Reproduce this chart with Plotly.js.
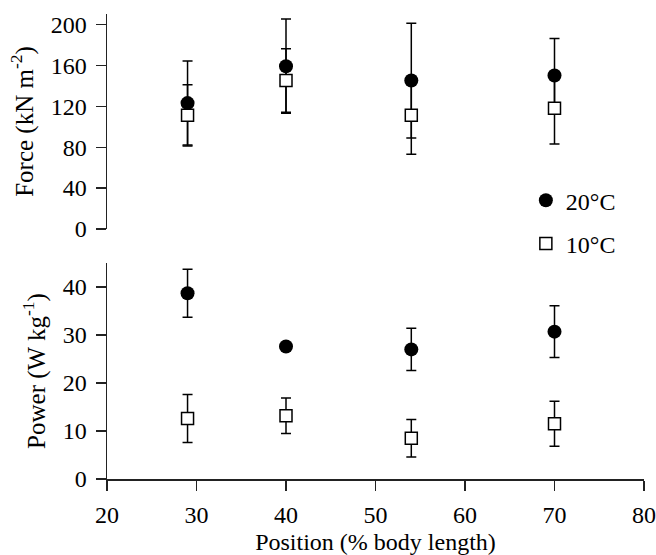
<!DOCTYPE html>
<html>
<head>
<meta charset="utf-8">
<script src="https://cdn.plot.ly/plotly-3.0.1.min.js"></script>
<style>html,body{margin:0;padding:0;background:#fff;}#chart{width:656px;height:555px;}</style>
</head>
<body>
<div id="chart"></div>
<script>
const positions = [29, 40, 54, 70];
const force20 = [123, 159, 145, 150];
const force20Err = [41, 46, 56, 36];
const force10 = [111, 145, 111, 118];
const force10Err = [30, 31, 38, 35];
const power20 = [38.7, 27.6, 27.0, 30.7];
const power20Err = [5.0, 0.8, 4.4, 5.4];
const power10 = [12.6, 13.2, 8.5, 11.5];
const power10Err = [5.0, 3.7, 3.9, 4.7];
const xTicks = [20, 30, 40, 50, 60, 70, 80];
const forceTicks = [0, 40, 80, 120, 160, 200];
const powerTicks = [0, 10, 20, 30, 40];

const FONT = "'Liberation Serif', 'Times New Roman', serif";
const errStyle = (arr) => ({type: 'data', array: arr, visible: true, color: '#000', thickness: 1.5, width: 5});
const circle = {symbol: 'circle', size: 14, color: '#000', line: {color: '#000', width: 0}};
const square = {symbol: 'square', size: 12, color: '#fff', line: {color: '#000', width: 1.5}};

const traces = [
  {x: positions, y: force20, error_y: errStyle(force20Err), mode: 'markers', marker: circle,
   xaxis: 'x', yaxis: 'y', name: '20°C', legendgroup: 'a', showlegend: true},
  {x: positions, y: force10, error_y: errStyle(force10Err), mode: 'markers', marker: square,
   xaxis: 'x', yaxis: 'y', name: '10°C', legendgroup: 'b', showlegend: true},
  {x: positions, y: power20, error_y: errStyle(power20Err), mode: 'markers', marker: circle,
   xaxis: 'x', yaxis: 'y2', name: '20°C', legendgroup: 'a', showlegend: false},
  {x: positions, y: power10, error_y: errStyle(power10Err), mode: 'markers', marker: square,
   xaxis: 'x', yaxis: 'y2', name: '10°C', legendgroup: 'b', showlegend: false}
];

const axisCommon = {
  showgrid: false, zeroline: false, showline: true, linecolor: '#222', linewidth: 1.5,
  ticks: 'outside', ticklen: 10, tickwidth: 1.2, tickcolor: '#222',
  ticklabelstandoff: 4,
  tickfont: {family: FONT, size: 24, color: '#000'}
};

const layout = {
  width: 656, height: 555,
  margin: {l: 107, r: 12, t: 14, b: 76},
  paper_bgcolor: '#fff', plot_bgcolor: '#fff',
  font: {family: FONT, size: 24, color: '#000'},
  showlegend: true,
  legend: {x: 0.78, xanchor: 'left', y: 0.647, yanchor: 'top', bgcolor: 'rgba(0,0,0,0)',
           font: {family: FONT, size: 24, color: '#000'}, tracegroupgap: 9, traceorder: 'grouped'},
  xaxis: Object.assign({}, axisCommon, {
    range: [20, 80], tickvals: xTicks, anchor: 'y2',
    title: {text: 'Position (% body length)', font: {family: FONT, size: 24}, standoff: 14}
  }),
  yaxis: Object.assign({}, axisCommon, {
    range: [0, 210], tickvals: forceTicks, domain: [0.5376, 1], anchor: 'x',
    title: {text: 'Force (kN m<sup>-2</sup>)', font: {family: FONT, size: 25}, standoff: 10}
  }),
  yaxis2: Object.assign({}, axisCommon, {
    range: [0, 45], tickvals: powerTicks, domain: [0, 0.4645], anchor: 'x',
    title: {text: 'Power (W kg<sup>-1</sup>)', font: {family: FONT, size: 25}, standoff: 10}
  })
};

Plotly.newPlot('chart', traces, layout, {displayModeBar: false, staticPlot: true});
</script>
</body>
</html>
